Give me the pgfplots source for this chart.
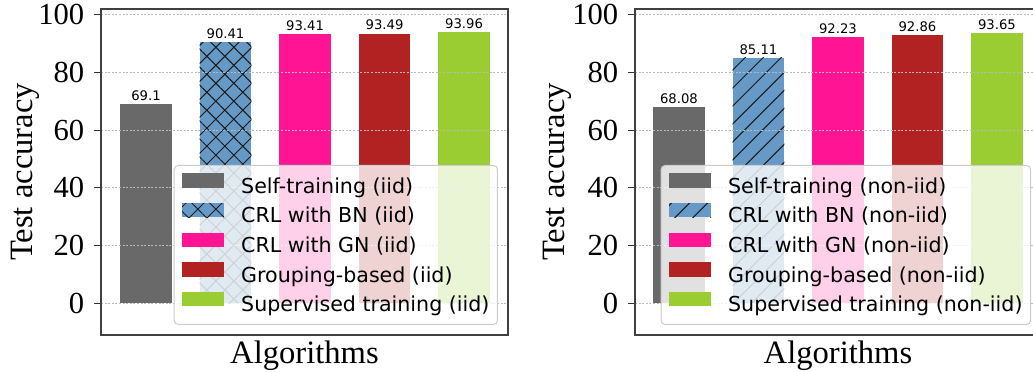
\documentclass[border=0pt]{standalone}
\usepackage{fontspec}
\setmainfont{Liberation Serif}
\newfontfamily\dejavu{DejaVu Sans}
\usepackage{pgfplots}
\pgfplotsset{compat=1.18}
\usetikzlibrary{patterns.meta}
\definecolor{cgray}{HTML}{696969}
\definecolor{cblue}{HTML}{6699C6}
\definecolor{cpink}{HTML}{FF1493}
\definecolor{cred}{HTML}{B22222}
\definecolor{cgreen}{HTML}{9ACD32}
\pgfplotsset{
  mybar/.style={draw=none, bar shift=0pt, bar width=0.65,
    legend image code/.code={\fill[##1, sharp corners, fill opacity=1] (0pt,0pt) rectangle (21pt,7.2pt);}},
  panel/.style={
    scale only axis, width=203.5pt, height=163pt,
    ymin=-11, ymax=102,
    ytick={0,20,...,100}, xtick=\empty,
    ytick pos=left, tick align=outside, major tick length=3.5pt,
    tick style={black!80, line width=0.5pt},
    axis line style={black!75, line width=0.6pt},
    ymajorgrids, grid style={gray!55, line width=0.4pt, dash pattern=on 1pt off 0.8pt},
    axis on top,
    ybar,
    /pgf/number format/assume math mode=true,
    yticklabel style={font=\fontsize{15.3}{18}\selectfont, inner sep=0pt, anchor=east, xshift=-4.7pt},
    xlabel={Algorithms}, ylabel={Test accuracy},
    label style={font=\fontsize{16.3}{19}\selectfont},
    xlabel style={at={(axis description cs:0.5,0)}, anchor=base, yshift=-14pt, inner sep=0pt},
    point meta=y,
    nodes near coords={\pgfmathprintnumber[fixed,precision=2]{\pgfplotspointmeta}},
    every node near coord/.append style={font=\dejavu\fontsize{6.6}{7.5}\selectfont, inner sep=0pt, anchor=south, yshift=1.5pt, black},
    legend cell align=left,
    legend style={font=\dejavu\fontsize{10.3}{12}\selectfont, fill=white, fill opacity=0.8, text opacity=1, draw opacity=1,
      draw=black!20, line width=0.5pt, rounded corners=2pt, inner xsep=4pt, inner ysep=4pt,
      column sep=8.5pt, row sep=2.5pt,
      nodes={inner sep=0pt, text height=7.8pt, text depth=2.4pt},
      at={(0.9754,0.0307)}, anchor=south east},
  }
}
\begin{document}
\begin{tikzpicture}
\useasboundingbox (0,0) rectangle (516.5pt,185.5pt);
\begin{axis}[panel, at={(50.5pt,18pt)}, anchor=south west,
  xmin=-0.566, xmax=4.553,
  ylabel style={at={(axis description cs:-0.1499,0.5)}, anchor=south, inner sep=0pt}]
\addplot[mybar, fill=cgray] coordinates {(0,69.1)};
\addlegendentry{Self-training (iid)}
\addplot[mybar, fill=cblue,
  postaction={pattern={Lines[angle=45,distance=6.36pt,line width=0.5pt]}, pattern color=black!90},
  postaction={pattern={Lines[angle=-45,distance=6.36pt,line width=0.5pt]}, pattern color=black!90}] coordinates {(1,90.41)};
\addlegendentry{CRL with BN (iid)}
\addplot[mybar, fill=cpink] coordinates {(2,93.41)};
\addlegendentry{CRL with GN (iid)}
\addplot[mybar, fill=cred] coordinates {(3,93.49)};
\addlegendentry{Grouping-based (iid)}
\addplot[mybar, fill=cgreen] coordinates {(4,93.96)};
\addlegendentry{Supervised training (iid)}
\end{axis}
\begin{axis}[panel, at={(317.5pt,18pt)}, anchor=south west, width=203pt,
  xmin=-0.553, xmax=4.554,
  ylabel style={at={(axis description cs:-0.155,0.5)}, anchor=south, inner sep=0pt}]
\addplot[mybar, fill=cgray] coordinates {(0,68.08)};
\addlegendentry{Self-training (non-iid)}
\addplot[mybar, fill=cblue,
  postaction={pattern={Lines[angle=45,distance=6.36pt,line width=0.5pt]}, pattern color=black!90}] coordinates {(1,85.11)};
\addlegendentry{CRL with BN (non-iid)}
\addplot[mybar, fill=cpink] coordinates {(2,92.23)};
\addlegendentry{CRL with GN (non-iid)}
\addplot[mybar, fill=cred] coordinates {(3,92.86)};
\addlegendentry{Grouping-based (non-iid)}
\addplot[mybar, fill=cgreen] coordinates {(4,93.65)};
\addlegendentry{Supervised training (non-iid)}
\end{axis}
\end{tikzpicture}
\end{document}
